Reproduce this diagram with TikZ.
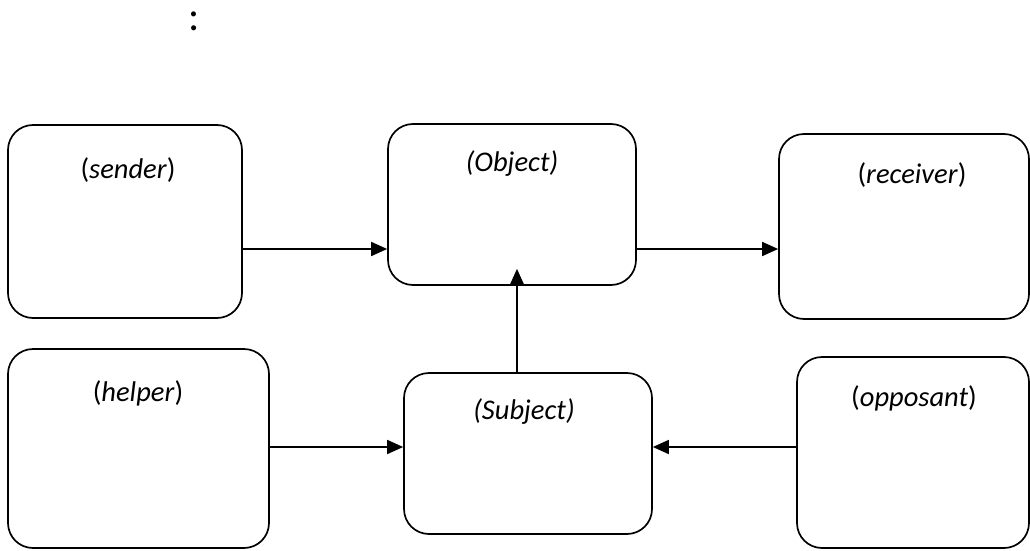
\documentclass[tikz,border=0pt]{standalone}
\usepackage{fontspec}
\setmainfont{Carlito}
\usetikzlibrary{arrows.meta}
\begin{document}
\begin{tikzpicture}[x=1pt,y=-1pt,
  box/.style={draw=black, line width=1.7pt, rounded corners=25pt, rectangle, inner sep=0pt, fill=white},
  lbl/.style={font=\fontsize{28.5}{34}\selectfont, inner sep=0pt},
  arr/.style={draw=black, line width=1.7pt, -{Triangle[length=16pt,width=14pt]}}]
\useasboundingbox (0,0) rectangle (1030,551);
\node[font=\fontsize{42}{48}\selectfont, inner sep=0pt, anchor=base] (colon) at (194,31) {:};
% boxes
\node[box, minimum width=234pt, minimum height=193pt] (sen) at (125,221.5) {};
\node[box, minimum width=248pt, minimum height=161pt] (obj) at (512,204.5) {};
\node[box, minimum width=250pt, minimum height=185pt] (rec) at (904,226.5) {};
\node[box, minimum width=261pt, minimum height=199pt] (hel) at (138.5,448.5) {};
\node[box, minimum width=248pt, minimum height=161pt] (sub) at (528,453.5) {};
\node[box, minimum width=232pt, minimum height=191pt] (opp) at (913,452.5) {};
% labels
\node[lbl] (tsen) at (128,170) {(\textit{sender})};
\node[lbl] (tobj) at (512,164) {\textit{(Object)}};
\node[lbl] (trec) at (912,175) {(\textit{receiver})};
\node[lbl] (thel) at (138,393) {(\textit{helper})};
\node[lbl] (tsub) at (524,412) {\textit{(Subject)}};
\node[lbl] (topp) at (914,398) {(\textit{opposant})};
% connector rows
\coordinate (rowA) at (0,249);
\coordinate (rowB) at (0,447);
\coordinate (colV) at (517,0);
\draw[arr] (sen.east |- rowA) -- (obj.west |- rowA);
\draw[arr] (obj.east |- rowA) -- (rec.west |- rowA);
\draw[arr] (hel.east |- rowB) -- (sub.west |- rowB);
\draw[arr] (opp.west |- rowB) -- (sub.east |- rowB);
\draw[arr] (colV |- sub.north) -- ([yshift=17pt]colV |- obj.south);
\end{tikzpicture}
\end{document}
